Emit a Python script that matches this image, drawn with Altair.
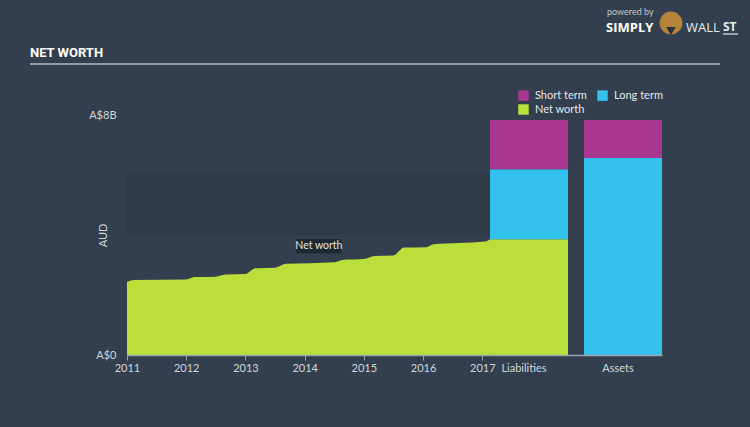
import altair as alt
import pandas as pd

# ---- data ----
years = [2011.0, 2011.12, 2012.0, 2012.14, 2012.5, 2012.66, 2013.0, 2013.17, 2013.5,
         2013.68, 2014.1, 2014.5, 2014.63, 2015.0, 2015.18, 2015.5, 2015.68, 2016.05,
         2016.18, 2016.6, 2017.05, 2017.13]
net_worth_b = [2.44, 2.50, 2.52, 2.60, 2.61, 2.68, 2.70, 2.89, 2.91,
               3.04, 3.06, 3.09, 3.17, 3.20, 3.30, 3.32, 3.58, 3.59,
               3.69, 3.73, 3.78, 3.86]
year_ticks = [2011, 2012, 2013, 2014, 2015, 2016, 2017]

bar_side = ["Liabilities", "Liabilities", "Liabilities", "Assets", "Assets"]
bar_type = ["Net worth", "Long term", "Short term", "Long term", "Short term"]
bar_value_b = [3.86, 2.33, 1.64, 6.57, 1.26]
type_order = ["Short term", "Long term", "Net worth"]
type_rank = {"Net worth": 0, "Long term": 1, "Short term": 2}
type_colors = ["#a8358e", "#33c2ee", "#bade3a"]

band_low_b = [4.0]
band_high_b = [6.0]

label_year = [2014.24]
label_value_b = [3.63]
label_text = ["Net worth"]

# ---- layout constants ----
W_LEFT, W_RIGHT, H = 363, 180, 240
OX, OY = 127, 115          # where the left plot area starts on the page
PAGE_W, PAGE_H = 750, 427
BG = "#333f4e"
TXT = "#d2d6db"
AXC = "#9aa3ad"
FONT = "Lato"

area_df = pd.DataFrame({"year": years, "value": [v * 1e9 for v in net_worth_b]})
bars_df = pd.DataFrame({
    "side": bar_side,
    "type": bar_type,
    "value": [v * 1e9 for v in bar_value_b],
    "rank": [type_rank[t] for t in bar_type],
})
band_df = pd.DataFrame({"low": [v * 1e9 for v in band_low_b], "high": [v * 1e9 for v in band_high_b]})
label_df = pd.DataFrame({"year": label_year, "value": [v * 1e9 for v in label_value_b], "text": label_text})

xscale = alt.Scale(domain=[years[0], years[-1]], nice=False, zero=False)
yscale = alt.Scale(domain=[0, 8e9], nice=False)

xaxis = alt.Axis(values=year_ticks, format="d", title=None, grid=False, tickSize=5,
                 tickColor=AXC, domainColor=AXC, domainWidth=1.5, labelPadding=2,
                 labelColor=TXT, labelFontSize=11, labelFont=FONT, labelFlush=False,
                 zindex=1)
yaxis = alt.Axis(values=[0, 8e9], labelExpr="datum.value == 0 ? 'A$0' : 'A$8B'",
                 title="AUD", grid=False, ticks=False, domain=False, labelPadding=11,
                 labelColor=TXT, labelFontSize=11, labelFont=FONT,
                 titleColor=TXT, titleFontSize=11, titleFont=FONT, titleFontWeight="normal",
                 titleX=-24, titleY=120, titleAngle=-90, titleAlign="center",
                 titleBaseline="middle")

one = pd.DataFrame({"t": ["NET WORTH"]})

# invisible frame covering the whole page so the page origin is fixed
frame = alt.Chart(one).mark_rect(opacity=0, color=BG).encode(
    x=alt.value(-OX), x2=alt.value(PAGE_W - OX),
    y=alt.value(-OY), y2=alt.value(PAGE_H - OY))

band = alt.Chart(band_df).mark_rect(color="#2e3a48").encode(
    x=alt.value(0), x2=alt.value(W_LEFT),
    y=alt.Y("low:Q", scale=yscale, axis=yaxis), y2="high:Q")

area = alt.Chart(area_df).mark_area(color="#bade3a", interpolate="monotone").encode(
    x=alt.X("year:Q", scale=xscale, axis=xaxis),
    y=alt.Y("value:Q", scale=yscale, axis=yaxis))

box_path = "M-1,-0.32L1,-0.32L1,0.32L-1,0.32Z"
label_box = alt.Chart(label_df).mark_point(shape=box_path, size=2025, filled=True,
                                           color="#1e2830", opacity=1).encode(
    x=alt.X("year:Q", scale=xscale, axis=xaxis),
    y=alt.Y("value:Q", scale=yscale, axis=yaxis))
label_txt = alt.Chart(label_df).mark_text(color="#e4e6e8", fontSize=10.5, font=FONT).encode(
    x=alt.X("year:Q", scale=xscale, axis=xaxis),
    y=alt.Y("value:Q", scale=yscale, axis=yaxis),
    text="text:N")

# header and branding (decorations, positioned relative to the left panel)
title_txt = alt.Chart(one).mark_text(align="left", baseline="middle", color="#ffffff",
                                     fontSize=13, fontWeight="bold", font="Roboto").encode(
    x=alt.value(30 - OX), y=alt.value(53 - OY), text="t:N")
title_rule = alt.Chart(one).mark_rule(color="#b4bcc4", strokeWidth=1.5).encode(
    x=alt.value(30 - OX), x2=alt.value(720 - OX), y=alt.value(64 - OY))

brand = pd.DataFrame({"a": ["powered by"], "b": ["SIMPLY"], "c": ["WALL"], "d": ["ST"]})
brand1 = alt.Chart(brand).mark_text(align="left", baseline="middle", color="#c3c9cf",
                                    fontSize=9, font=FONT).encode(
    x=alt.value(607 - OX), y=alt.value(12 - OY), text="a:N")
brand2 = alt.Chart(brand).mark_text(align="left", baseline="middle", color="#ffffff",
                                    fontSize=13, fontWeight="bold", font="Open Sans").encode(
    x=alt.value(606 - OX), y=alt.value(28 - OY), text="b:N")
brand_icon = alt.Chart(brand).mark_point(shape="circle", filled=True, size=520,
                                         color="#b4843a", opacity=1).encode(
    x=alt.value(671 - OX), y=alt.value(23 - OY))
brand_icon2 = alt.Chart(brand).mark_point(shape="triangle-down", filled=True, size=90,
                                          color="#2a2f36", opacity=1).encode(
    x=alt.value(671 - OX), y=alt.value(31 - OY))
brand3 = alt.Chart(brand).mark_text(align="left", baseline="middle", color="#e8eaec",
                                    fontSize=13, font="Open Sans").encode(
    x=alt.value(686 - OX), y=alt.value(28 - OY), text="c:N")
brand4 = alt.Chart(brand).mark_text(align="left", baseline="middle", color="#e8eaec",
                                    fontSize=12, fontWeight="bold", font="Open Sans").encode(
    x=alt.value(723 - OX), y=alt.value(27 - OY), text="d:N")
brand_rule = alt.Chart(brand).mark_rule(color="#e8eaec", strokeWidth=1.2).encode(
    x=alt.value(723 - OX), x2=alt.value(738 - OX), y=alt.value(34 - OY))

left = alt.layer(frame, band, area, label_box, label_txt, title_txt, title_rule,
                 brand1, brand2, brand_icon, brand_icon2, brand3, brand4, brand_rule).properties(
    width=W_LEFT, height=H)

right = alt.Chart(bars_df).mark_bar().encode(
    x=alt.X("side:N",
            scale=alt.Scale(domain=["Liabilities", "Assets"], range=[0, 172],
                            paddingInner=0.17, paddingOuter=0),
            axis=alt.Axis(title=None, labelAngle=0, ticks=False, labelPadding=7,
                          domainColor=AXC, domainWidth=1.5, labelColor=TXT, labelFontSize=11,
                          labelFont=FONT, labelOffset=-5, zindex=1)),
    y=alt.Y("value:Q", scale=yscale, axis=None, stack="zero"),
    color=alt.Color("type:N",
                    scale=alt.Scale(domain=type_order, range=type_colors),
                    legend=alt.Legend(title=None, orient="none", legendX=518 - OX, legendY=90 - OY,
                                      columns=2, direction="horizontal",
                                      symbolType="square", symbolSize=110,
                                      symbolStrokeWidth=0, symbolOpacity=1,
                                      labelColor="#e4e7ea", labelFontSize=11,
                                      labelFont=FONT, labelOffset=6, columnPadding=10,
                                      rowPadding=2)),
    order=alt.Order("rank:Q"),
).properties(width=W_RIGHT, height=H)

chart = alt.hconcat(left, right, spacing=0, bounds="flush").properties(
    padding=0,
    background=BG,
).configure_view(stroke=None)

chart.save("out.html", embed_options={"renderer": "svg", "actions": False})
